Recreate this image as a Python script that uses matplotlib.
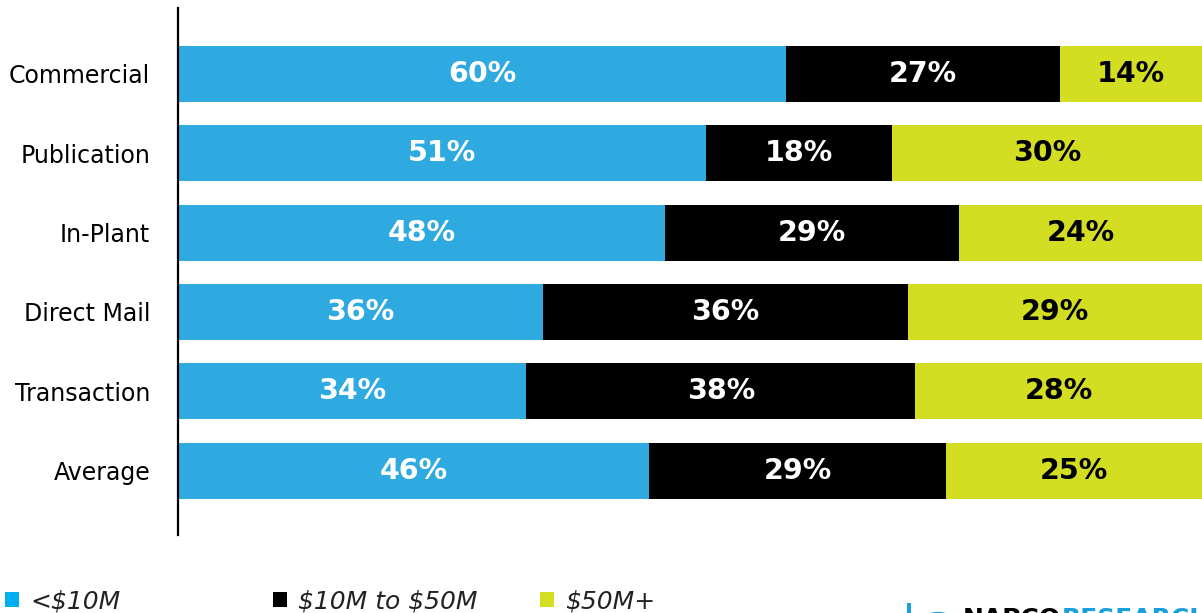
import numpy as np
import matplotlib.pyplot as plt
from matplotlib.patches import Rectangle, Circle

categories = ['Commercial', 'Publication', 'In-Plant', 'Direct Mail', 'Transaction', 'Average']
under_10m = [60, 51, 48, 36, 34, 46]
mid_10_50m = [27, 18, 29, 36, 38, 29]
over_50m = [14, 30, 24, 29, 28, 25]
series_names = ['<$10M', '$10M to $50M', '$50M+']

BLUE = '#2EAAE1'
YELLOW = '#D3DE23'
colors = [BLUE, 'black', YELLOW]
legend_colors = ['#00AEEF', 'black', '#D4DF22']
text_colors = ['white', 'white', 'black']

W, H = 1202, 613
fig = plt.figure(figsize=(W / 100, H / 100), dpi=100)
ax = fig.add_axes([178 / W, 1 - 535 / H, (W - 178) / W, 527 / H])

# rounded labels don't always add to 100, bars are drawn as shares of the row
raw = np.array([under_10m, mid_10_50m, over_50m], dtype=float)
shares = raw / raw.sum(axis=0) * 100

y = np.arange(len(categories))
left = np.zeros(len(categories))
for vals, labels, col, tcol in zip(shares, raw, colors, text_colors):
    bars = ax.barh(y, vals, left=left, height=0.705, color=col, edgecolor='none')
    for b, v in zip(bars, labels):
        ax.text(b.get_x() + b.get_width() / 2, b.get_y() + b.get_height() / 2,
                f'{v:.0f}%', ha='center', va='center', color=tcol,
                fontsize=20.5, fontweight='bold', family='DejaVu Sans')
    left += vals

ax.set_xlim(0, 100)
ax.set_ylim(5.81, -0.83)
ax.set_yticks(y)
ax.set_yticklabels(categories, fontsize=17)
ax.tick_params(axis='y', length=0, pad=20)
ax.set_xticks([])
for s in ['top', 'right', 'bottom']:
    ax.spines[s].set_visible(False)
ax.spines['left'].set_linewidth(1.6)
ax.spines['left'].set_color('black')

# legend along the bottom
for i, (name, col) in enumerate(zip(series_names, legend_colors)):
    x0 = 5 + i * 267.5
    fig.add_artist(Rectangle((x0 / W, 1 - 607 / H), 14 / W, 15 / H,
                             transform=fig.transFigure, color=col, lw=0))
    fig.text((x0 + 25) / W, 1 - 608 / H, name, fontsize=18, style='italic',
             color='#222222', ha='left', va='baseline', parse_math=False)

# logo, mostly cut off at the bottom edge
fig.add_artist(Rectangle((907 / W, 0), 4 / W, 10 / H, transform=fig.transFigure,
                         color='#1AA0DA', lw=0))
fig.add_artist(Circle((938 / W, -8 / H), 0.0115, transform=fig.transFigure,
                      fill=False, ec='#1AA0DA', lw=3))
fig.text(963 / W, 1 - 607 / H, 'NAPCO', fontsize=18, fontweight='bold',
         color='black', ha='left', va='top')
fig.text(1062 / W, 1 - 607 / H, 'RESEARCH', fontsize=18, fontweight='bold',
         color='#1AA0DA', ha='left', va='top')

fig.savefig('out.png', dpi=100)
